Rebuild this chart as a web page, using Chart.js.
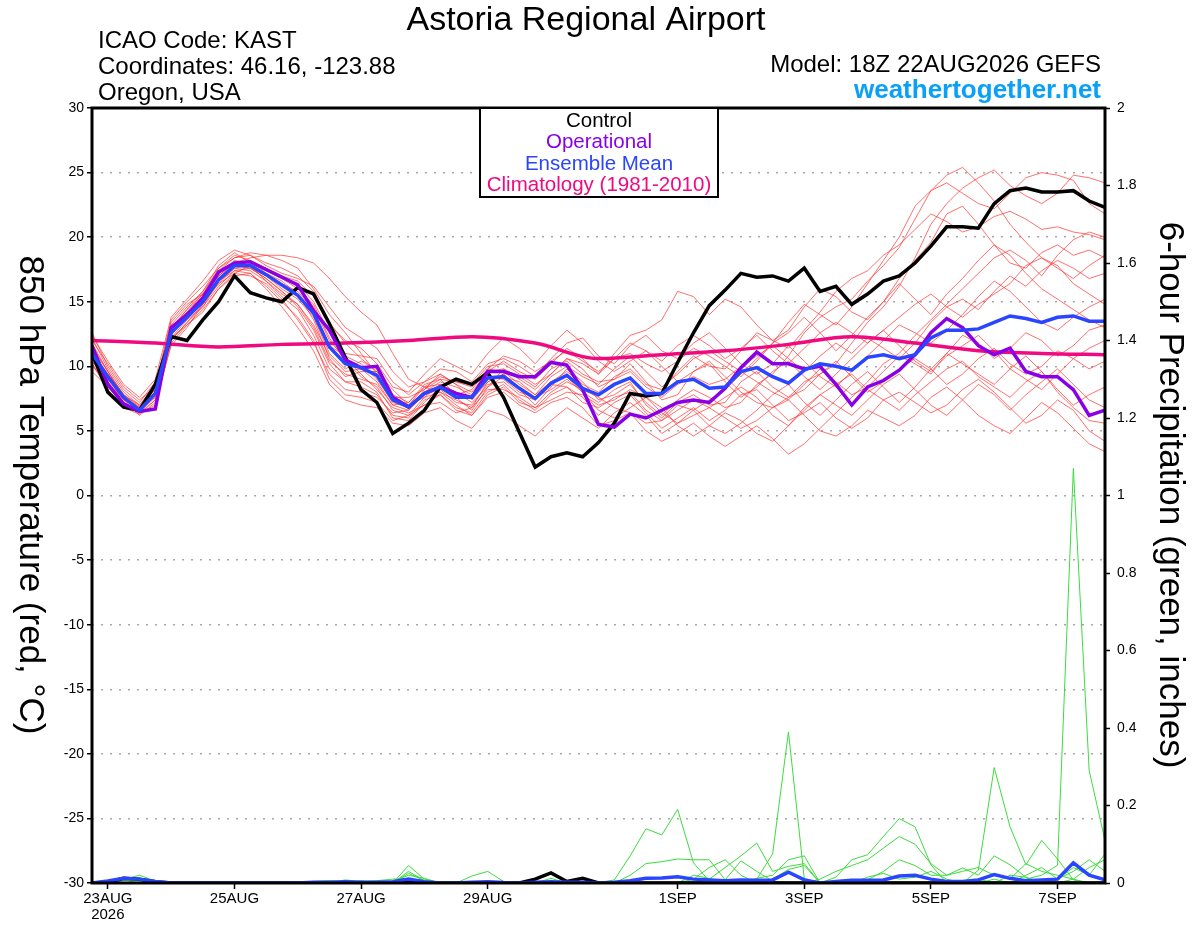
<!DOCTYPE html>
<html>
<head>
<meta charset="utf-8">
<title>Astoria Regional Airport - GEFS</title>
<script src="https://cdn.jsdelivr.net/npm/chart.js@4.4.1/dist/chart.umd.min.js"></script>
<style>
    html, body { margin: 0; padding: 0; background: #fff; overflow: hidden; }
    #wrap { position: relative; width: 1200px; height: 927px; }
</style>
</head>
<body>
<div id="wrap"><canvas id="chart"></canvas></div>
<script>
// forecast hours from 18Z 22AUG2026, one value every 6 hours
const STEP = 6;
const CLIM_STEP = 24;

const tickHours = [6, 54, 102, 150, 222, 270, 318, 366];
const tickLabels = ['23AUG', '25AUG', '27AUG', '29AUG', '1SEP', '3SEP', '5SEP', '7SEP'];
const yearLabel = '2026';

const control = [11.0, 8.0, 6.85, 6.6, 8.6, 12.3, 12.0, 13.6, 15.0, 17.0, 15.7, 15.3, 15.0, 16.1, 15.6, 13.3, 10.7, 8.2, 7.2, 4.8, 5.6, 6.6, 8.4, 9.0, 8.6, 9.5, 7.6, 4.9, 2.2, 3.0, 3.3, 3.0, 4.1, 5.6, 7.9, 7.7, 7.9, 10.3, 12.6, 14.7, 15.9, 17.2, 16.9, 17.0, 16.6, 17.6, 15.8, 16.2, 14.8, 15.6, 16.6, 17.0, 18.0, 19.3, 20.8, 20.8, 20.7, 22.6, 23.6, 23.8, 23.5, 23.5, 23.6, 22.8, 22.3];
const operational = [11.6, 8.6, 7.1, 6.5, 6.7, 13.0, 14.0, 15.3, 17.3, 18.0, 18.1, 17.5, 16.9, 16.3, 14.3, 12.8, 10.5, 9.9, 10.0, 7.6, 6.85, 7.9, 8.4, 7.9, 7.6, 9.6, 9.6, 9.2, 9.2, 10.3, 10.1, 8.2, 5.5, 5.3, 6.3, 6.0, 6.6, 7.2, 7.4, 7.2, 8.3, 9.9, 11.1, 10.2, 10.2, 9.8, 10.0, 8.6, 7.0, 8.4, 8.9, 9.7, 10.9, 12.6, 13.7, 13.0, 11.6, 10.9, 11.4, 9.6, 9.2, 9.2, 8.2, 6.2, 6.6];
const ensembleMean = [11.0, 9.2, 7.6, 6.6, 7.9, 12.6, 13.8, 15.0, 16.7, 17.8, 17.8, 17.1, 16.3, 15.5, 14.1, 11.5, 10.2, 9.9, 9.3, 7.4, 6.85, 7.9, 8.4, 7.6, 7.6, 9.1, 9.2, 8.3, 7.5, 8.7, 9.3, 8.3, 7.8, 8.6, 9.1, 7.9, 7.9, 8.8, 9.0, 8.3, 8.4, 9.6, 9.9, 9.2, 8.7, 9.7, 10.2, 10.0, 9.7, 10.7, 10.9, 10.6, 10.9, 12.2, 12.8, 12.8, 12.9, 13.4, 13.9, 13.7, 13.4, 13.8, 13.9, 13.5, 13.5];
const climatology = [12.0, 11.8, 11.5, 11.7, 11.8, 12.0, 12.3, 11.8, 10.6, 10.9, 11.2, 11.7, 12.3, 11.8, 11.2, 11.0, 10.9];

// ensemble members, 850 hPa temperature
const member01 = [12.2, 9.8, 8.0, 7.0, 8.6, 13.2, 14.6, 15.8, 17.4, 18.4, 18.6, 18.0, 17.6, 17.0, 15.8, 13.4, 11.8, 10.6, 9.6, 8.2, 7.0, 7.6, 8.6, 8.0, 7.2, 8.4, 9.8, 9.0, 8.2, 9.4, 10.6, 9.8, 8.4, 9.0, 10.2, 8.8, 7.4, 7.8, 9.6, 10.4, 9.2, 8.0, 7.2, 6.8, 7.6, 8.8, 9.4, 10.2, 11.8, 13.4, 14.6, 16.2, 18.4, 21.0, 22.6, 23.8, 24.6, 25.2, 24.0, 23.2, 22.6, 23.4, 24.8, 24.6, 24.2];
const member02 = [10.4, 8.8, 7.2, 6.4, 7.4, 12.0, 13.4, 14.8, 16.6, 17.6, 17.4, 16.6, 15.6, 14.8, 13.2, 10.8, 9.6, 9.8, 8.8, 7.0, 6.6, 8.2, 9.4, 8.6, 8.0, 9.6, 10.4, 9.6, 9.0, 10.2, 11.4, 10.6, 9.4, 11.0, 12.4, 12.8, 13.6, 15.8, 15.4, 14.0, 15.2, 14.6, 13.2, 12.0, 12.8, 14.6, 16.0, 15.4, 14.2, 13.6, 15.0, 16.8, 18.2, 19.6, 21.8, 22.4, 21.0, 19.4, 18.0, 17.6, 18.8, 19.4, 18.6, 19.0, 18.4];
const member03 = [11.4, 9.0, 7.4, 6.8, 8.2, 12.8, 14.0, 15.4, 17.0, 18.2, 18.0, 17.4, 16.8, 16.0, 14.8, 12.2, 10.4, 9.2, 8.4, 6.6, 6.2, 7.0, 7.8, 6.8, 6.4, 8.0, 8.6, 7.4, 6.6, 7.8, 8.4, 7.6, 6.2, 7.2, 7.8, 6.4, 5.2, 6.0, 6.8, 5.8, 6.6, 7.8, 8.2, 7.0, 5.8, 6.4, 7.2, 6.0, 5.2, 6.0, 7.4, 8.0, 7.2, 6.4, 7.0, 8.2, 9.0, 8.0, 6.8, 5.6, 6.2, 7.4, 6.6, 5.0, 4.2];
const member04 = [10.8, 9.4, 7.8, 6.9, 8.0, 12.4, 14.2, 15.6, 17.2, 18.0, 18.4, 18.6, 18.6, 18.4, 18.0, 16.8, 15.4, 14.2, 13.2, 11.0, 9.0, 8.4, 8.0, 7.4, 6.8, 8.8, 9.4, 8.2, 7.0, 8.4, 9.8, 8.8, 7.4, 7.8, 8.6, 7.2, 6.2, 7.4, 8.2, 7.6, 6.8, 7.2, 8.6, 9.4, 10.8, 12.6, 13.8, 14.6, 15.2, 16.6, 17.8, 19.2, 21.4, 23.6, 24.8, 25.4, 24.2, 22.8, 21.0, 19.6, 18.4, 17.8, 16.4, 15.6, 14.8];
const member05 = [9.6, 8.4, 7.0, 6.5, 7.6, 12.2, 13.6, 14.6, 16.2, 17.4, 17.6, 16.8, 15.8, 14.6, 12.8, 10.2, 8.8, 8.4, 7.8, 6.2, 6.0, 7.4, 7.8, 6.6, 6.2, 7.6, 8.0, 7.0, 6.4, 7.2, 7.6, 6.8, 5.4, 5.8, 6.4, 5.0, 4.2, 4.8, 5.6, 4.6, 3.8, 4.6, 5.4, 4.4, 3.2, 4.0, 5.2, 6.4, 7.6, 8.8, 10.2, 11.0, 12.4, 13.6, 14.8, 16.0, 17.2, 18.4, 19.0, 18.2, 17.0, 18.6, 19.8, 20.4, 20.0];
const member06 = [11.8, 9.6, 7.6, 6.6, 7.8, 12.6, 13.8, 15.2, 16.8, 17.8, 17.6, 17.0, 16.0, 15.2, 13.8, 11.0, 9.8, 10.4, 9.8, 7.8, 7.2, 8.6, 9.0, 7.8, 8.2, 9.8, 9.6, 8.6, 7.8, 9.2, 10.0, 9.2, 8.6, 9.8, 10.8, 9.6, 8.4, 9.4, 10.6, 11.2, 10.4, 9.6, 8.8, 8.0, 7.4, 8.6, 9.8, 8.8, 7.8, 8.4, 9.6, 10.8, 10.2, 9.4, 11.0, 12.4, 11.8, 10.6, 11.4, 12.6, 12.0, 10.8, 11.6, 12.8, 13.2];
const member07 = [10.2, 8.6, 7.2, 6.6, 7.8, 12.8, 14.2, 15.0, 16.4, 17.2, 17.0, 16.4, 15.2, 13.6, 11.8, 9.4, 8.2, 8.0, 7.6, 6.4, 6.6, 7.8, 8.2, 7.2, 7.0, 8.6, 8.8, 7.8, 7.4, 8.6, 8.4, 7.2, 6.8, 7.6, 8.0, 6.6, 5.8, 6.6, 7.4, 6.8, 7.6, 8.4, 7.6, 6.2, 5.4, 6.8, 7.8, 8.6, 9.4, 8.2, 7.4, 6.6, 7.8, 8.8, 9.8, 10.4, 9.2, 8.4, 7.6, 8.8, 9.6, 8.2, 7.0, 7.8, 8.4];
const member08 = [11.2, 9.2, 7.4, 6.7, 8.4, 13.4, 14.8, 15.6, 17.6, 18.6, 18.2, 17.2, 16.4, 15.8, 14.4, 11.6, 10.8, 10.2, 9.0, 7.2, 6.8, 8.0, 8.8, 8.4, 7.8, 9.2, 9.0, 8.0, 7.6, 8.8, 9.6, 8.6, 8.0, 9.2, 9.8, 8.6, 8.2, 9.6, 10.8, 10.0, 9.8, 11.2, 12.6, 12.0, 11.4, 12.8, 14.2, 15.8, 16.8, 17.4, 18.6, 19.4, 20.6, 21.8, 21.2, 20.4, 20.8, 21.6, 22.0, 21.4, 20.6, 20.8, 20.4, 20.2, 19.8];
const member09 = [12.6, 10.0, 8.2, 7.2, 8.8, 12.2, 13.2, 14.4, 16.0, 17.2, 17.8, 17.6, 17.0, 16.2, 14.6, 12.0, 10.6, 9.4, 8.2, 6.8, 6.4, 7.0, 7.2, 6.4, 6.8, 8.2, 8.2, 7.6, 6.8, 7.4, 8.0, 7.8, 7.0, 7.4, 8.2, 7.6, 6.4, 5.6, 6.2, 6.8, 6.0, 5.2, 5.8, 6.8, 7.4, 6.2, 5.0, 4.6, 5.4, 6.6, 6.0, 5.4, 6.2, 7.6, 8.4, 7.4, 6.2, 5.4, 4.8, 6.0, 7.2, 6.4, 5.2, 4.0, 3.4];
const member10 = [11.0, 9.0, 7.6, 6.8, 7.6, 12.4, 14.0, 15.4, 17.0, 18.0, 17.8, 17.2, 16.6, 15.6, 13.6, 10.6, 9.2, 9.6, 9.6, 7.6, 7.0, 8.4, 8.6, 8.0, 7.6, 9.6, 9.8, 9.2, 8.4, 9.8, 10.4, 9.4, 8.8, 9.0, 9.6, 8.4, 7.6, 8.6, 9.2, 8.6, 9.0, 10.0, 10.8, 11.6, 10.6, 9.6, 10.8, 11.8, 11.0, 12.2, 11.4, 10.6, 11.8, 13.4, 14.6, 15.2, 14.4, 15.8, 17.0, 16.2, 17.4, 18.2, 17.6, 16.8, 17.2];
const member11 = [10.0, 8.8, 7.4, 6.2, 7.2, 11.6, 13.0, 14.8, 16.4, 17.6, 17.8, 16.6, 15.4, 14.4, 12.4, 9.8, 8.8, 8.8, 8.0, 6.0, 5.8, 7.2, 8.4, 7.6, 6.6, 8.4, 9.2, 8.8, 7.8, 8.8, 9.2, 8.0, 7.2, 8.2, 8.8, 7.0, 6.0, 7.2, 7.8, 7.0, 7.2, 8.8, 9.6, 8.4, 7.6, 8.2, 9.4, 10.4, 9.2, 8.0, 8.8, 9.8, 10.6, 9.8, 8.6, 9.4, 10.6, 11.4, 10.2, 9.4, 10.0, 11.2, 10.6, 9.8, 10.4];
const member12 = [11.6, 9.6, 7.8, 7.0, 8.2, 13.0, 14.4, 15.8, 17.8, 18.8, 18.0, 17.4, 16.8, 16.4, 15.0, 12.6, 11.0, 10.8, 10.6, 8.8, 7.8, 8.8, 9.8, 9.6, 8.8, 10.2, 10.6, 10.0, 9.2, 10.6, 11.8, 12.2, 10.8, 10.2, 11.6, 12.4, 11.2, 10.6, 11.8, 12.6, 11.4, 10.2, 9.4, 10.2, 11.6, 10.4, 9.2, 8.4, 9.6, 10.8, 12.0, 13.2, 12.6, 11.8, 12.8, 14.0, 15.4, 16.6, 15.8, 14.6, 13.4, 12.8, 13.8, 14.6, 15.2];
const member13 = [10.6, 9.4, 7.0, 6.4, 7.0, 11.8, 13.2, 14.2, 16.0, 17.0, 17.2, 16.2, 15.0, 13.8, 12.0, 9.0, 7.8, 7.6, 7.2, 5.8, 6.2, 7.6, 8.0, 7.0, 6.2, 7.8, 8.4, 7.2, 6.8, 8.0, 8.8, 8.2, 7.6, 6.8, 6.4, 5.6, 5.8, 7.0, 6.6, 5.4, 4.8, 5.6, 6.6, 7.8, 8.6, 7.2, 6.2, 7.4, 8.6, 9.6, 8.4, 7.2, 8.4, 9.8, 11.0, 10.2, 9.4, 8.6, 9.8, 10.8, 9.6, 8.0, 6.8, 5.8, 5.6];
const member14 = [12.0, 10.2, 8.4, 7.4, 8.4, 13.6, 15.0, 16.2, 17.6, 18.4, 18.8, 18.6, 18.2, 17.6, 16.0, 14.0, 12.6, 11.0, 9.4, 7.6, 7.6, 8.2, 9.0, 8.8, 8.4, 9.8, 10.8, 10.4, 9.6, 10.4, 11.2, 10.4, 9.6, 10.6, 11.0, 10.2, 9.6, 10.4, 11.4, 10.8, 10.0, 9.2, 10.4, 11.8, 13.4, 14.8, 14.0, 13.2, 14.6, 16.4, 18.2, 20.0, 22.4, 23.6, 24.2, 23.4, 22.6, 22.2, 23.4, 24.6, 25.0, 24.8, 24.4, 22.6, 21.8];
const member15 = [11.4, 9.6, 7.8, 6.8, 8.0, 12.8, 14.4, 15.6, 17.0, 18.0, 18.2, 17.6, 17.0, 16.6, 15.4, 13.2, 12.0, 11.4, 10.2, 8.4, 8.0, 9.4, 10.6, 10.0, 9.4, 11.0, 12.2, 11.4, 10.2, 11.6, 12.8, 11.8, 10.4, 9.6, 10.4, 11.2, 10.0, 8.8, 9.6, 10.2, 8.8, 7.6, 8.4, 9.6, 10.4, 9.2, 8.2, 9.4, 10.6, 11.8, 12.8, 11.6, 10.4, 9.6, 10.8, 11.6, 12.4, 11.2, 9.8, 9.0, 8.2, 9.4, 10.6, 11.4, 12.0];
const member16 = [10.2, 8.2, 6.8, 6.3, 7.4, 12.0, 13.4, 14.6, 16.6, 17.4, 17.2, 16.0, 14.6, 13.0, 11.2, 8.6, 7.4, 7.0, 6.8, 5.6, 5.4, 6.4, 6.8, 5.8, 5.2, 6.6, 6.2, 5.4, 4.6, 5.8, 6.8, 6.0, 5.2, 6.4, 7.2, 6.2, 4.8, 5.6, 6.6, 7.4, 8.2, 9.4, 10.6, 11.8, 12.6, 13.8, 12.6, 11.2, 12.4, 13.8, 15.0, 16.4, 15.2, 14.0, 15.6, 16.8, 18.2, 19.4, 18.6, 17.2, 16.0, 15.2, 14.4, 13.6, 13.0];
const member17 = [12.4, 10.4, 8.6, 7.6, 9.0, 13.8, 15.2, 16.6, 18.2, 19.0, 18.6, 17.8, 17.2, 16.8, 16.2, 14.6, 13.0, 12.2, 11.4, 9.6, 8.4, 8.8, 9.4, 8.6, 7.4, 8.8, 9.4, 8.4, 7.6, 8.2, 9.0, 8.0, 6.6, 6.0, 6.8, 7.6, 6.8, 5.4, 4.6, 5.4, 6.4, 5.8, 4.8, 4.2, 5.4, 6.6, 7.8, 7.0, 6.2, 7.4, 8.6, 9.4, 8.2, 7.0, 6.2, 7.4, 8.6, 7.8, 6.6, 7.8, 8.8, 9.8, 8.6, 7.4, 6.8];
const member18 = [11.2, 9.4, 7.6, 6.6, 7.8, 12.6, 14.0, 15.2, 16.8, 17.8, 17.6, 16.8, 15.8, 14.8, 13.0, 10.4, 9.4, 9.0, 8.6, 7.0, 7.2, 8.4, 9.2, 8.8, 8.6, 10.0, 10.2, 9.4, 8.6, 9.4, 10.6, 10.2, 9.4, 10.6, 11.8, 11.2, 10.4, 11.6, 12.4, 11.6, 10.6, 11.4, 12.4, 11.2, 10.2, 11.4, 12.6, 13.4, 12.6, 11.8, 12.8, 13.8, 14.8, 15.6, 14.6, 13.8, 14.8, 15.6, 16.4, 17.8, 18.4, 17.6, 16.8, 17.8, 18.6];

// 6-hour precipitation, inches
const controlPrecip = [0, 0.002, 0.012, 0.01, 0.003, 0, 0, 0, 0, 0, 0, 0, 0, 0, 0, 0, 0, 0, 0, 0, 0.004, 0, 0, 0, 0, 0, 0, 0, 0.01, 0.026, 0.004, 0.012, 0, 0, 0, 0, 0, 0, 0, 0, 0, 0, 0, 0, 0, 0, 0, 0, 0, 0, 0, 0, 0, 0, 0, 0, 0, 0, 0, 0, 0, 0, 0, 0, 0];
const meanPrecip = [0, 0.005, 0.012, 0.01, 0.004, 0, 0, 0, 0, 0, 0, 0, 0, 0, 0.002, 0.002, 0.003, 0.002, 0.002, 0.003, 0.01, 0.003, 0, 0, 0.002, 0.003, 0.001, 0, 0.002, 0.003, 0.002, 0.002, 0, 0.002, 0.006, 0.012, 0.013, 0.016, 0.01, 0.008, 0.006, 0.008, 0.007, 0.008, 0.028, 0.008, 0, 0.004, 0.007, 0.007, 0.008, 0.018, 0.02, 0.01, 0.004, 0.004, 0.008, 0.022, 0.012, 0.006, 0.008, 0.01, 0.052, 0.02, 0.008];
const precip01 = [0, 0.005, 0.015, 0.01, 0, 0, 0, 0, 0, 0, 0, 0, 0, 0, 0, 0, 0, 0, 0, 0, 0.01, 0, 0, 0, 0, 0, 0, 0, 0, 0, 0, 0, 0, 0, 0, 0, 0, 0, 0, 0, 0, 0, 0.01, 0.075, 0.39, 0.012, 0, 0, 0, 0, 0, 0, 0, 0, 0, 0, 0, 0.01, 0, 0, 0, 0, 0, 0, 0];
const precip02 = [0, 0, 0.01, 0.02, 0.005, 0, 0, 0, 0, 0, 0, 0, 0, 0, 0.004, 0.006, 0.004, 0, 0, 0, 0, 0, 0, 0, 0, 0, 0, 0, 0, 0, 0, 0, 0, 0.008, 0.07, 0.14, 0.124, 0.19, 0.052, 0.005, 0, 0, 0, 0, 0, 0, 0, 0, 0, 0, 0, 0, 0, 0, 0, 0, 0, 0, 0, 0, 0, 0, 0.01, 0, 0, 0];
const precip03 = [0, 0, 0, 0.008, 0, 0, 0, 0, 0, 0, 0, 0, 0, 0, 0, 0, 0, 0.006, 0, 0.004, 0.02, 0.012, 0, 0, 0.018, 0.03, 0.004, 0, 0, 0, 0, 0, 0, 0, 0, 0, 0, 0, 0, 0, 0, 0, 0, 0, 0, 0, 0, 0.015, 0.06, 0.073, 0.12, 0.166, 0.145, 0.047, 0, 0, 0, 0, 0, 0, 0, 0, 0, 0, 0];
const precip04 = [0, 0.004, 0.012, 0.006, 0, 0, 0, 0, 0, 0, 0, 0, 0, 0, 0, 0, 0, 0, 0, 0, 0, 0, 0, 0, 0, 0, 0, 0, 0, 0, 0, 0, 0, 0, 0, 0, 0, 0, 0, 0.01, 0.004, 0, 0, 0, 0, 0, 0, 0, 0, 0, 0, 0, 0, 0, 0, 0, 0.033, 0.298, 0.145, 0.047, 0.11, 0.062, 0.008, 0, 0];
const precip05 = [0, 0, 0.008, 0.005, 0, 0, 0, 0, 0, 0, 0, 0, 0, 0, 0, 0, 0, 0, 0, 0, 0.03, 0.006, 0, 0, 0, 0, 0, 0, 0, 0, 0, 0, 0, 0, 0, 0, 0, 0, 0, 0, 0, 0, 0, 0, 0, 0, 0, 0, 0, 0, 0, 0, 0, 0, 0, 0, 0, 0, 0, 0.01, 0.02, 0.046, 1.07, 0.29, 0.11];
const precip06 = [0, 0, 0, 0, 0, 0, 0, 0, 0, 0, 0, 0, 0, 0, 0, 0, 0.008, 0.004, 0.006, 0.01, 0.012, 0.004, 0, 0, 0, 0, 0, 0, 0, 0, 0, 0, 0, 0, 0.02, 0.05, 0.055, 0.062, 0.06, 0.06, 0.008, 0.057, 0.03, 0.005, 0, 0, 0, 0, 0, 0, 0, 0, 0, 0, 0, 0, 0, 0, 0, 0, 0, 0, 0, 0, 0];
const precip07 = [0, 0, 0.006, 0.012, 0.004, 0, 0, 0, 0, 0, 0, 0, 0, 0, 0, 0, 0, 0, 0, 0, 0.045, 0.01, 0, 0, 0, 0, 0, 0, 0, 0, 0, 0, 0, 0, 0, 0, 0, 0, 0, 0.01, 0.04, 0.07, 0.103, 0.03, 0.043, 0.05, 0, 0, 0, 0, 0, 0, 0, 0, 0, 0, 0, 0, 0, 0.02, 0.04, 0.01, 0.03, 0.06, 0.03];
const precip08 = [0, 0, 0, 0, 0, 0, 0, 0, 0, 0, 0, 0, 0, 0, 0, 0, 0, 0, 0.004, 0, 0.025, 0.006, 0, 0, 0, 0, 0, 0, 0, 0.012, 0, 0, 0, 0, 0, 0, 0, 0, 0, 0, 0, 0, 0, 0, 0, 0, 0.01, 0.03, 0.045, 0.06, 0.09, 0.12, 0.1, 0.05, 0.02, 0.039, 0.02, 0.07, 0.047, 0.015, 0, 0, 0, 0, 0];
const precip09 = [0, 0, 0, 0, 0, 0, 0, 0, 0, 0, 0, 0, 0, 0, 0, 0, 0, 0, 0, 0, 0, 0, 0, 0, 0, 0, 0, 0, 0, 0, 0.005, 0, 0, 0, 0, 0, 0, 0, 0.01, 0.04, 0.06, 0.02, 0, 0.01, 0.035, 0.045, 0, 0, 0, 0.008, 0.03, 0.06, 0.045, 0.02, 0.02, 0.03, 0.04, 0.02, 0.01, 0.05, 0.03, 0.02, 0.01, 0.04, 0.06];
const precip10 = [0, 0, 0, 0, 0, 0, 0, 0, 0, 0, 0, 0, 0, 0, 0, 0, 0, 0, 0, 0, 0, 0, 0, 0, 0, 0, 0, 0, 0, 0, 0, 0, 0, 0, 0, 0, 0, 0, 0.02, 0.012, 0, 0, 0.012, 0.02, 0.06, 0.07, 0, 0, 0, 0.015, 0.025, 0.01, 0.015, 0.03, 0.01, 0, 0.01, 0, 0.02, 0.015, 0, 0.01, 0.04, 0.02, 0.075];

const temperatureMembers = [member01, member02, member03, member04, member05, member06, member07, member08, member09, member10, member11, member12, member13, member14, member15, member16, member17, member18];
const precipMembers = [precip01, precip02, precip03, precip04, precip05, precip06, precip07, precip08, precip09, precip10];

const FONT = '"Liberation Sans", Arial, Helvetica, sans-serif';
const BLACK = '#000000';
const PURPLE = '#8a00e6';
const BLUE = '#2a45ff';
const PINK = '#f00a80';
const RED = 'rgba(255, 50, 50, 0.7)';
const GREEN = '#3ddc3d';

const toPoints = (values, step) => values.map((value, i) => ({ x: i * step, y: value }));

const thick = (label, values, color, yAxisID, order, step = STEP) => ({
    label,
    data: toPoints(values, step),
    borderColor: color,
    borderWidth: 3.5,
    yAxisID,
    order,
});

const datasets = [
    thick('Ensemble Mean', ensembleMean, BLUE, 'y', 0),
    thick('Operational', operational, PURPLE, 'y', 1),
    thick('Control', control, BLACK, 'y', 2),
    { ...thick('Climatology (1981-2010)', climatology, PINK, 'y', 3, CLIM_STEP), cubicInterpolationMode: 'monotone' },
    thick('Mean precipitation', meanPrecip, BLUE, 'y2', 0),
    thick('Control precipitation', controlPrecip, BLACK, 'y2', 2),
];

precipMembers.forEach((values, i) => {
    datasets.push({ label: `Precip member ${i + 1}`, data: toPoints(values, STEP), borderColor: GREEN, borderWidth: 1, yAxisID: 'y2', order: 4 });
});

temperatureMembers.forEach((values, i) => {
    datasets.push({ label: `Member ${i + 1}`, data: toPoints(values, STEP), borderColor: RED, borderWidth: 1, yAxisID: 'y', order: 5 });
});

// header texts, legend box, axis titles and plot frame
const decorations = {
    id: 'decorations',
    beforeDraw(chart) {
        const { ctx, width, height } = chart;
        ctx.save();
        ctx.fillStyle = '#fff';
        ctx.fillRect(0, 0, width, height);
        ctx.restore();
    },
    afterDraw(chart) {
        const { ctx, chartArea: area } = chart;
        ctx.save();

        ctx.strokeStyle = BLACK;
        ctx.lineWidth = 3;
        ctx.strokeRect(area.left, area.top, area.right - area.left, area.bottom - area.top);

        ctx.fillStyle = BLACK;
        ctx.textBaseline = 'alphabetic';
        ctx.textAlign = 'center';
        ctx.font = `34px ${FONT}`;
        ctx.fillText('Astoria Regional Airport', 586, 30);

        ctx.textAlign = 'left';
        ctx.font = `24px ${FONT}`;
        ctx.fillText('ICAO Code: KAST', 98, 48);
        ctx.fillText('Coordinates: 46.16, -123.88', 98, 74);
        ctx.fillText('Oregon, USA', 98, 100);

        ctx.textAlign = 'right';
        ctx.fillText('Model: 18Z 22AUG2026 GEFS', 1101, 72);
        ctx.font = `bold 26px ${FONT}`;
        ctx.fillStyle = '#0aa0f8';
        ctx.fillText('weathertogether.net', 1101, 98);

        // legend box
        ctx.fillStyle = '#fff';
        ctx.fillRect(480, 108, 238, 89);
        ctx.lineWidth = 2;
        ctx.strokeRect(480, 108, 238, 89);
        ctx.textAlign = 'center';
        ctx.textBaseline = 'middle';
        ctx.font = `20.5px ${FONT}`;
        [['Control', BLACK], ['Operational', PURPLE], ['Ensemble Mean', BLUE], ['Climatology (1981-2010)', PINK]]
            .forEach(([text, color], i) => {
                ctx.fillStyle = color;
                ctx.fillText(text, 599, 121 + i * 21.5);
            });

        // axis titles read top to bottom
        ctx.fillStyle = BLACK;
        ctx.font = `35px ${FONT}`;
        [[30, '850 hPa Temperature (red, °C)'], [1170, '6-hour Precipitation (green, inches)']].forEach(([x, text]) => {
            ctx.save();
            ctx.translate(x, 495);
            ctx.rotate(Math.PI / 2);
            ctx.fillText(text, 0, 0);
            ctx.restore();
        });

        ctx.restore();
    },
};

const tickFont = { family: FONT, size: 14 };

new Chart(document.getElementById('chart'), {
    type: 'line',
    data: { datasets },
    options: {
        responsive: true,
        maintainAspectRatio: false,
        devicePixelRatio: 1,
        animation: false,
        layout: { padding: { top: 108, left: 0, right: 0, bottom: 0 } },
        elements: {
            point: { radius: 0 },
            line: { tension: 0, fill: false },
        },
        plugins: { legend: { display: false }, tooltip: { enabled: false }, title: { display: false } },
        scales: {
            x: {
                type: 'linear',
                min: 0,
                max: 384,
                afterBuildTicks: (scale) => {
                    scale.ticks = tickHours.map((value) => ({ value }));
                },
                afterFit: (scale) => {
                    scale.height = 44;
                },
                ticks: {
                    autoSkip: false,
                    maxRotation: 0,
                    padding: 2,
                    color: BLACK,
                    font: { family: FONT, size: 15, lineHeight: 1.05 },
                    callback: (value) => {
                        const k = tickHours.indexOf(value);
                        if (k < 0) return '';
                        return k === 0 ? [tickLabels[0], yearLabel] : tickLabels[k];
                    },
                },
                grid: { drawOnChartArea: false, drawTicks: true, tickLength: 6, tickColor: BLACK, tickWidth: 1.5 },
                border: { display: false },
            },
            y: {
                position: 'left',
                min: -30,
                max: 30,
                afterFit: (scale) => {
                    scale.width = 92;
                },
                ticks: { stepSize: 5, padding: 3, color: BLACK, font: tickFont },
                grid: { color: '#a8a8a8', lineWidth: 1.5, tickLength: 5, tickColor: BLACK, tickWidth: 1.5 },
                border: { display: false, dash: [2, 7] },
            },
            y2: {
                position: 'right',
                min: 0,
                max: 2,
                afterFit: (scale) => {
                    scale.width = 95;
                },
                ticks: {
                    stepSize: 0.2,
                    padding: 7,
                    color: BLACK,
                    font: tickFont,
                    callback: (value) => String(Math.round(value * 10) / 10),
                },
                grid: { drawOnChartArea: false, tickLength: 5, tickColor: BLACK, tickWidth: 1.5 },
                border: { display: false },
            },
        },
    },
    plugins: [decorations],
});
</script>
</body>
</html>
